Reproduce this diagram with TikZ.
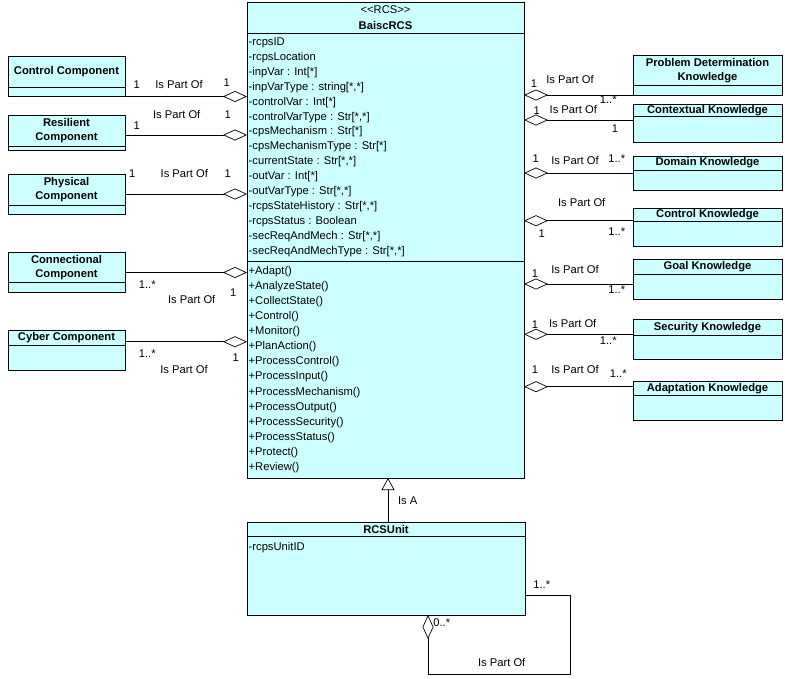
\documentclass[tikz,border=0pt]{standalone}
\usepackage{fontspec}
\setmainfont{Liberation Sans}
\usepackage{tikz}
\usetikzlibrary{arrows.meta, positioning, calc}
\definecolor{clsfill}{RGB}{204,255,255}

\begin{document}
\begin{tikzpicture}[x=1pt, y=-1pt, every node/.style={font=\fontsize{11.2}{13}\selectfont}]
    % class boxes, members, association ends
    \tikzset{
        cls/.style={draw, fill=clsfill, line width=0.7pt, anchor=north west, inner sep=0pt, outer sep=0pt},
        ttl/.style={font=\fontsize{11.2}{14}\selectfont\bfseries, align=center, inner sep=0pt},
        memb/.style={anchor=base west, inner sep=0pt},
        lab/.style={inner sep=0pt},
        sep/.style={line width=0.7pt},
        agg/.style={line width=0.7pt, -{Diamond[open, length=24pt, width=11pt]}},
        isa/.style={line width=0.7pt, -{Triangle[open, length=12pt, width=13pt]}}
    }
    \useasboundingbox (0,0) rectangle (785,678);
    % main class
    \node[cls, minimum width=277pt, minimum height=476pt] (rcs) at (247,2) {};
    \draw[sep] ([yshift=-31pt]rcs.north west) -- ([yshift=-31pt]rcs.north east);
    \draw[sep] ([yshift=-259.7pt]rcs.north west) -- ([yshift=-259.7pt]rcs.north east);
    \node (rcs-st) at (385.5,10) {<\kern0pt<RCS>\kern0pt>};
    \node[font=\fontsize{11.2}{13}\selectfont\bfseries] (rcs-nm) at (385.5,25) {BaiscRCS};
    \foreach \a [count=\i] in {-rcpsID, -rcpsLocation, {-inpVar : Int[*]}, {-inpVarType : string[*,*]},
        {-controlVar : Int[*]}, {-controlVarType : Str[*,*]}, {-cpsMechanism : Str[*]},
        {-cpsMechanismType : Str[*]}, {-currentState : Str[*,*]}, {-outVar : Int[*]},
        {-outVarType : Str[*,*]}, {-rcpsStateHistory : Str[*,*]}, {-rcpsStatus : Boolean},
        {-secReqAndMech : Str[*,*]}, {-secReqAndMechType : Str[*,*]}}
        \node[memb] (a\i) at (248.5, {45.7+14.88*(\i-1)}) {\a};
    \foreach \m [count=\i] in {+Adapt(), +AnalyzeState(), +CollectState(), +Control(), +Monitor(),
        +PlanAction(), +ProcessControl(), +ProcessInput(), +ProcessMechanism(), +ProcessOutput(),
        +ProcessSecurity(), +ProcessStatus(), +Protect(), +Review()}
        \node[memb] (m\i) at (248.5, {274+15.13*(\i-1)}) {\m};
    % component classes (left)
    \foreach \nm/\ttxt/\yt/\ys/\yb in {ctrl/{Control Component}/56/87/96.5,
        resil/{Resilient\\Component}/115/146.7/150, phys/{Physical\\Component}/174/205/214,
        conn/{Connectional\\Component}/252.7/282.3/292.3, cyb/{Cyber Component}/330.7/345.3/370}
    {
        \node[cls, minimum width=117pt, minimum height={(\yb-\yt)*1pt}] (\nm) at (8,\yt) {};
        \draw[sep] ([yshift={(\yb-\ys)*1pt}]\nm.south west) -- ([yshift={(\yb-\ys)*1pt}]\nm.south east);
        \node[ttl] (\nm-t) at (66.5,{(\yt+\ys)/2}) {\ttxt};
    }
    % knowledge classes (right)
    \foreach \nm/\ttxt/\yt/\ys/\yb in {pdk/{Problem Determination\\Knowledge}/55/85.7/95,
        ctx/{Contextual Knowledge}/104.3/116.7/142.7, dom/{Domain Knowledge}/156/170/190,
        ctk/{Control Knowledge}/208.3/221.7/246.7, goal/{Goal Knowledge}/259.3/274/299.3,
        sec/{Security Knowledge}/319.3/335/359.3, ada/{Adaptation Knowledge}/381/395.7/420}
    {
        \node[cls, minimum width=149pt, minimum height={(\yb-\yt)*1pt}] (\nm) at (633,\yt) {};
        \draw[sep] ([yshift={(\yb-\ys)*1pt}]\nm.south west) -- ([yshift={(\yb-\ys)*1pt}]\nm.south east);
        \node[ttl] (\nm-t) at (707.5,{(\yt+\ys)/2}) {\ttxt};
    }
    % aggregations into BaiscRCS
    \draw[agg] (ctrl.south east) -- (ctrl.south east -| rcs.west);
    \draw[agg] ([yshift=-2.5pt]resil.east) -- ([yshift=-2.5pt]resil.east -| rcs.west);
    \draw[agg] (phys.east) -- (phys.east -| rcs.west);
    \draw[agg] (conn.east) -- (conn.east -| rcs.west);
    \draw[agg] ([yshift=8.6pt]cyb.east) -- ([yshift=8.6pt]cyb.east -| rcs.west);
    \draw[agg] (pdk.south west) -- (pdk.south west -| rcs.east);
    \draw[agg] ([yshift=3.5pt]ctx.west) -- ([yshift=3.5pt]ctx.west -| rcs.east);
    \draw[agg] (dom.west) -- (dom.west -| rcs.east);
    \draw[agg] ([yshift=6.8pt]ctk.west) -- ([yshift=6.8pt]ctk.west -| rcs.east);
    \draw[agg] ([yshift=-4.7pt]goal.west) -- ([yshift=-4.7pt]goal.west -| rcs.east);
    \draw[agg] ([yshift=5pt]sec.west) -- ([yshift=5pt]sec.west -| rcs.east);
    \draw[agg] ([yshift=13.8pt]ada.west) -- ([yshift=13.8pt]ada.west -| rcs.east);
    % role labels
    \foreach \nm/\px/\py/\txt in {c1/136.7/85/1, c2/179/84.3/Is Part Of, c3/226.7/82.3/1,
        r1/176.7/114/Is Part Of, r2/227.7/114.3/1, r3/136.7/126/1,
        p1/132.3/173.3/1, p2/184.3/173.3/Is Part Of, p3/227.7/173.3/1,
        n1/147.3/284.3/1..*, n2/233.3/292.3/1, n3/191.7/299.3/Is Part Of,
        y1/147.3/353.3/1..*, y2/235.7/357.7/1, y3/184/369.3/Is Part Of,
        k1/534/84/1, k2/570/79.3/Is Part Of, k3/608.3/100/1..*,
        x1/536.7/111/1, x2/573.3/109.3/Is Part Of, x3/615/128.3/1,
        d1/535.7/158.3/1, d2/575/160/Is Part Of, d3/616.7/158.3/1..*,
        t1/581.7/202.7/Is Part Of, t2/541.7/234/1, t3/616.7/231.7/1..*,
        g1/535/274/1, g2/575/269.3/Is Part Of, g3/616.7/290/1..*,
        s1/535/325/1, s2/572.7/323.3/Is Part Of, s3/608.3/340.7/1..*,
        e1/535/369.3/1, e2/575/369.3/Is Part Of, e3/618.3/374/1..*,
        u1/541.7/585/1..*, u2/441.7/622.7/0..*, u3/501.7/662.7/Is Part Of}
        \node[lab] (\nm) at (\px,\py) {\txt};
    % subclass
    \node[cls, minimum width=278pt, minimum height=93pt] (unit) at (247,522) {};
    \draw[sep] ([yshift=-14pt]unit.north west) -- ([yshift=-14pt]unit.north east);
    \node[font=\fontsize{11.2}{13}\selectfont\bfseries] (unit-t) at (386,529.3) {RCSUnit};
    \node[memb] (unit-a) at (248.5,550.7) {-rcpsUnitID};
    \draw[isa] ([xshift=2pt]unit.north) -- ([xshift=2pt]unit.north |- rcs.south);
    \node[lab] (isa-l) at (407.7,500.7) {Is A};
    % self aggregation
    \coordinate (lp) at (570,674);
    \draw[agg] ([yshift=-27.2pt]unit.east) -| (lp) -| ([xshift=42pt]unit.south);
\end{tikzpicture}
\end{document}
